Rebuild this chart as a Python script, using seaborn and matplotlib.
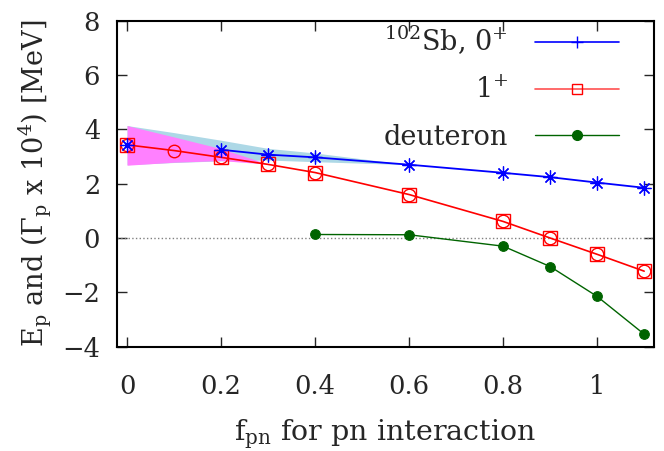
import matplotlib
matplotlib.use('Agg')
import matplotlib.pyplot as plt
from matplotlib.lines import Line2D
import seaborn as sns

# values
f_zero = [0, 0.2, 0.3, 0.4, 0.6, 0.8, 0.9, 1.0, 1.1]
e_zero = [3.43, 3.25, 3.07, 2.97, 2.70, 2.40, 2.24, 2.04, 1.85]

f_one = [0, 0.1, 0.2, 0.3, 0.4, 0.6, 0.8, 0.9, 1.0, 1.1]
e_one = [3.43, 3.22, 2.97, 2.71, 2.41, 1.60, 0.61, 0.0, -0.60, -1.22]

f_deut = [0.4, 0.6, 0.8, 0.9, 1.0, 1.1]
e_deut = [0.13, 0.12, -0.30, -1.05, -2.15, -3.54]

# width bands (lower / upper edge)
f_band0 = [0, 0.1, 0.2, 0.3, 0.4, 0.6]
lo_band0 = [2.70, 2.78, 2.84, 2.87, 2.81, 2.70]
hi_band0 = [4.14, 3.88, 3.60, 3.30, 3.13, 2.70]

f_band1 = [0, 0.1, 0.2, 0.3]
lo_band1 = [2.68, 2.79, 2.85, 2.72]
hi_band1 = [4.14, 3.72, 3.29, 2.72]

x_ticks = [0, 0.2, 0.4, 0.6, 0.8, 1.0]
x_ticklabels = ['0', '0.2', '0.4', '0.6', '0.8', '1']
y_ticks = [-4, -2, 0, 2, 4, 6, 8]

sns.set_style('ticks')
plt.rcParams['font.family'] = ['DejaVu Serif']
plt.rcParams['mathtext.fontset'] = 'dejavuserif'

fig = plt.figure(figsize=(6.64, 4.51), dpi=100)
ax = fig.add_axes([0.1758, 0.2313, 0.8092, 0.7228])

# bands
ax.fill_between(f_band0, lo_band0, hi_band0, color='#add8e6', lw=0, zorder=1)
sns.lineplot(x=f_zero, y=e_zero, color='blue', lw=1.3, ax=ax, zorder=2)
ax.fill_between(f_band1, lo_band1, hi_band1, color='#ff80ff', lw=0, zorder=3)

# zero line
ax.axhline(0, color='gray', ls=':', lw=1, zorder=1.5)

# blue asterisks on top
sns.lineplot(x=f_zero, y=e_zero, color='blue', lw=0, marker=(8, 2, 0),
             markersize=10, markeredgecolor='blue', markeredgewidth=0.9, ax=ax, zorder=6)

# 1+ curve
sns.lineplot(x=f_one, y=e_one, color='red', lw=1.2, marker='o', markersize=9,
             markerfacecolor='none', markeredgecolor='red', markeredgewidth=1.0, ax=ax, zorder=4)
sq_f = [f for f in f_one if f != 0.1]
sq_e = [e for f, e in zip(f_one, e_one) if f != 0.1]
sns.lineplot(x=sq_f, y=sq_e, color='red', lw=0, marker='s', markersize=10,
             markerfacecolor='none', markeredgecolor='red', markeredgewidth=1.0, ax=ax, zorder=4)

# deuteron
sns.lineplot(x=f_deut, y=e_deut, color='#006400', lw=1.0, marker='o', markersize=7,
             markeredgecolor='#006400', ax=ax, zorder=5)

ax.set_xlim(-0.022, 1.121)
ax.set_ylim(-4, 8)
ax.set_xticks(x_ticks)
ax.set_xticklabels(x_ticklabels)
ax.set_yticks(y_ticks)
ax.tick_params(direction='in', length=7, width=1, top=True, right=True, labelsize=18.5)
ax.tick_params(axis='x', pad=20)
ax.tick_params(axis='y', pad=12)
for s in ax.spines.values():
    s.set_linewidth(1.5)
    s.set_color('black')

ax.set_xlabel(r'f$_{\mathregular{pn}}$ for pn interaction', fontsize=20.5, labelpad=13)
ax.set_ylabel(r'E$_{\mathregular{p}}$ and ($\Gamma_{\mathregular{p}}$ x 10$^{\mathregular{4}}$) [MeV]',
              fontsize=19.5, labelpad=6)

handles = [
    Line2D([], [], color='blue', lw=1.2, marker='+', markersize=8),
    Line2D([], [], color='#ff5050', lw=1.2, marker='s', markersize=7,
           markerfacecolor='none', markeredgecolor='red'),
    Line2D([], [], color='#006400', lw=1.0, marker='o', markersize=7),
]
labels = [r'$^{\mathregular{102}}$Sb, 0$^{\mathregular{+}}$', r'1$^{\mathregular{+}}$', 'deuteron']
ax.legend(handles, labels, loc='upper right', bbox_to_anchor=(0.955, 1.022), frameon=False,
          markerfirst=False, fontsize=19.5, handlelength=3.1, handletextpad=1.0,
          labelspacing=0.72, borderaxespad=0)

fig.savefig('out.png', dpi=100)
